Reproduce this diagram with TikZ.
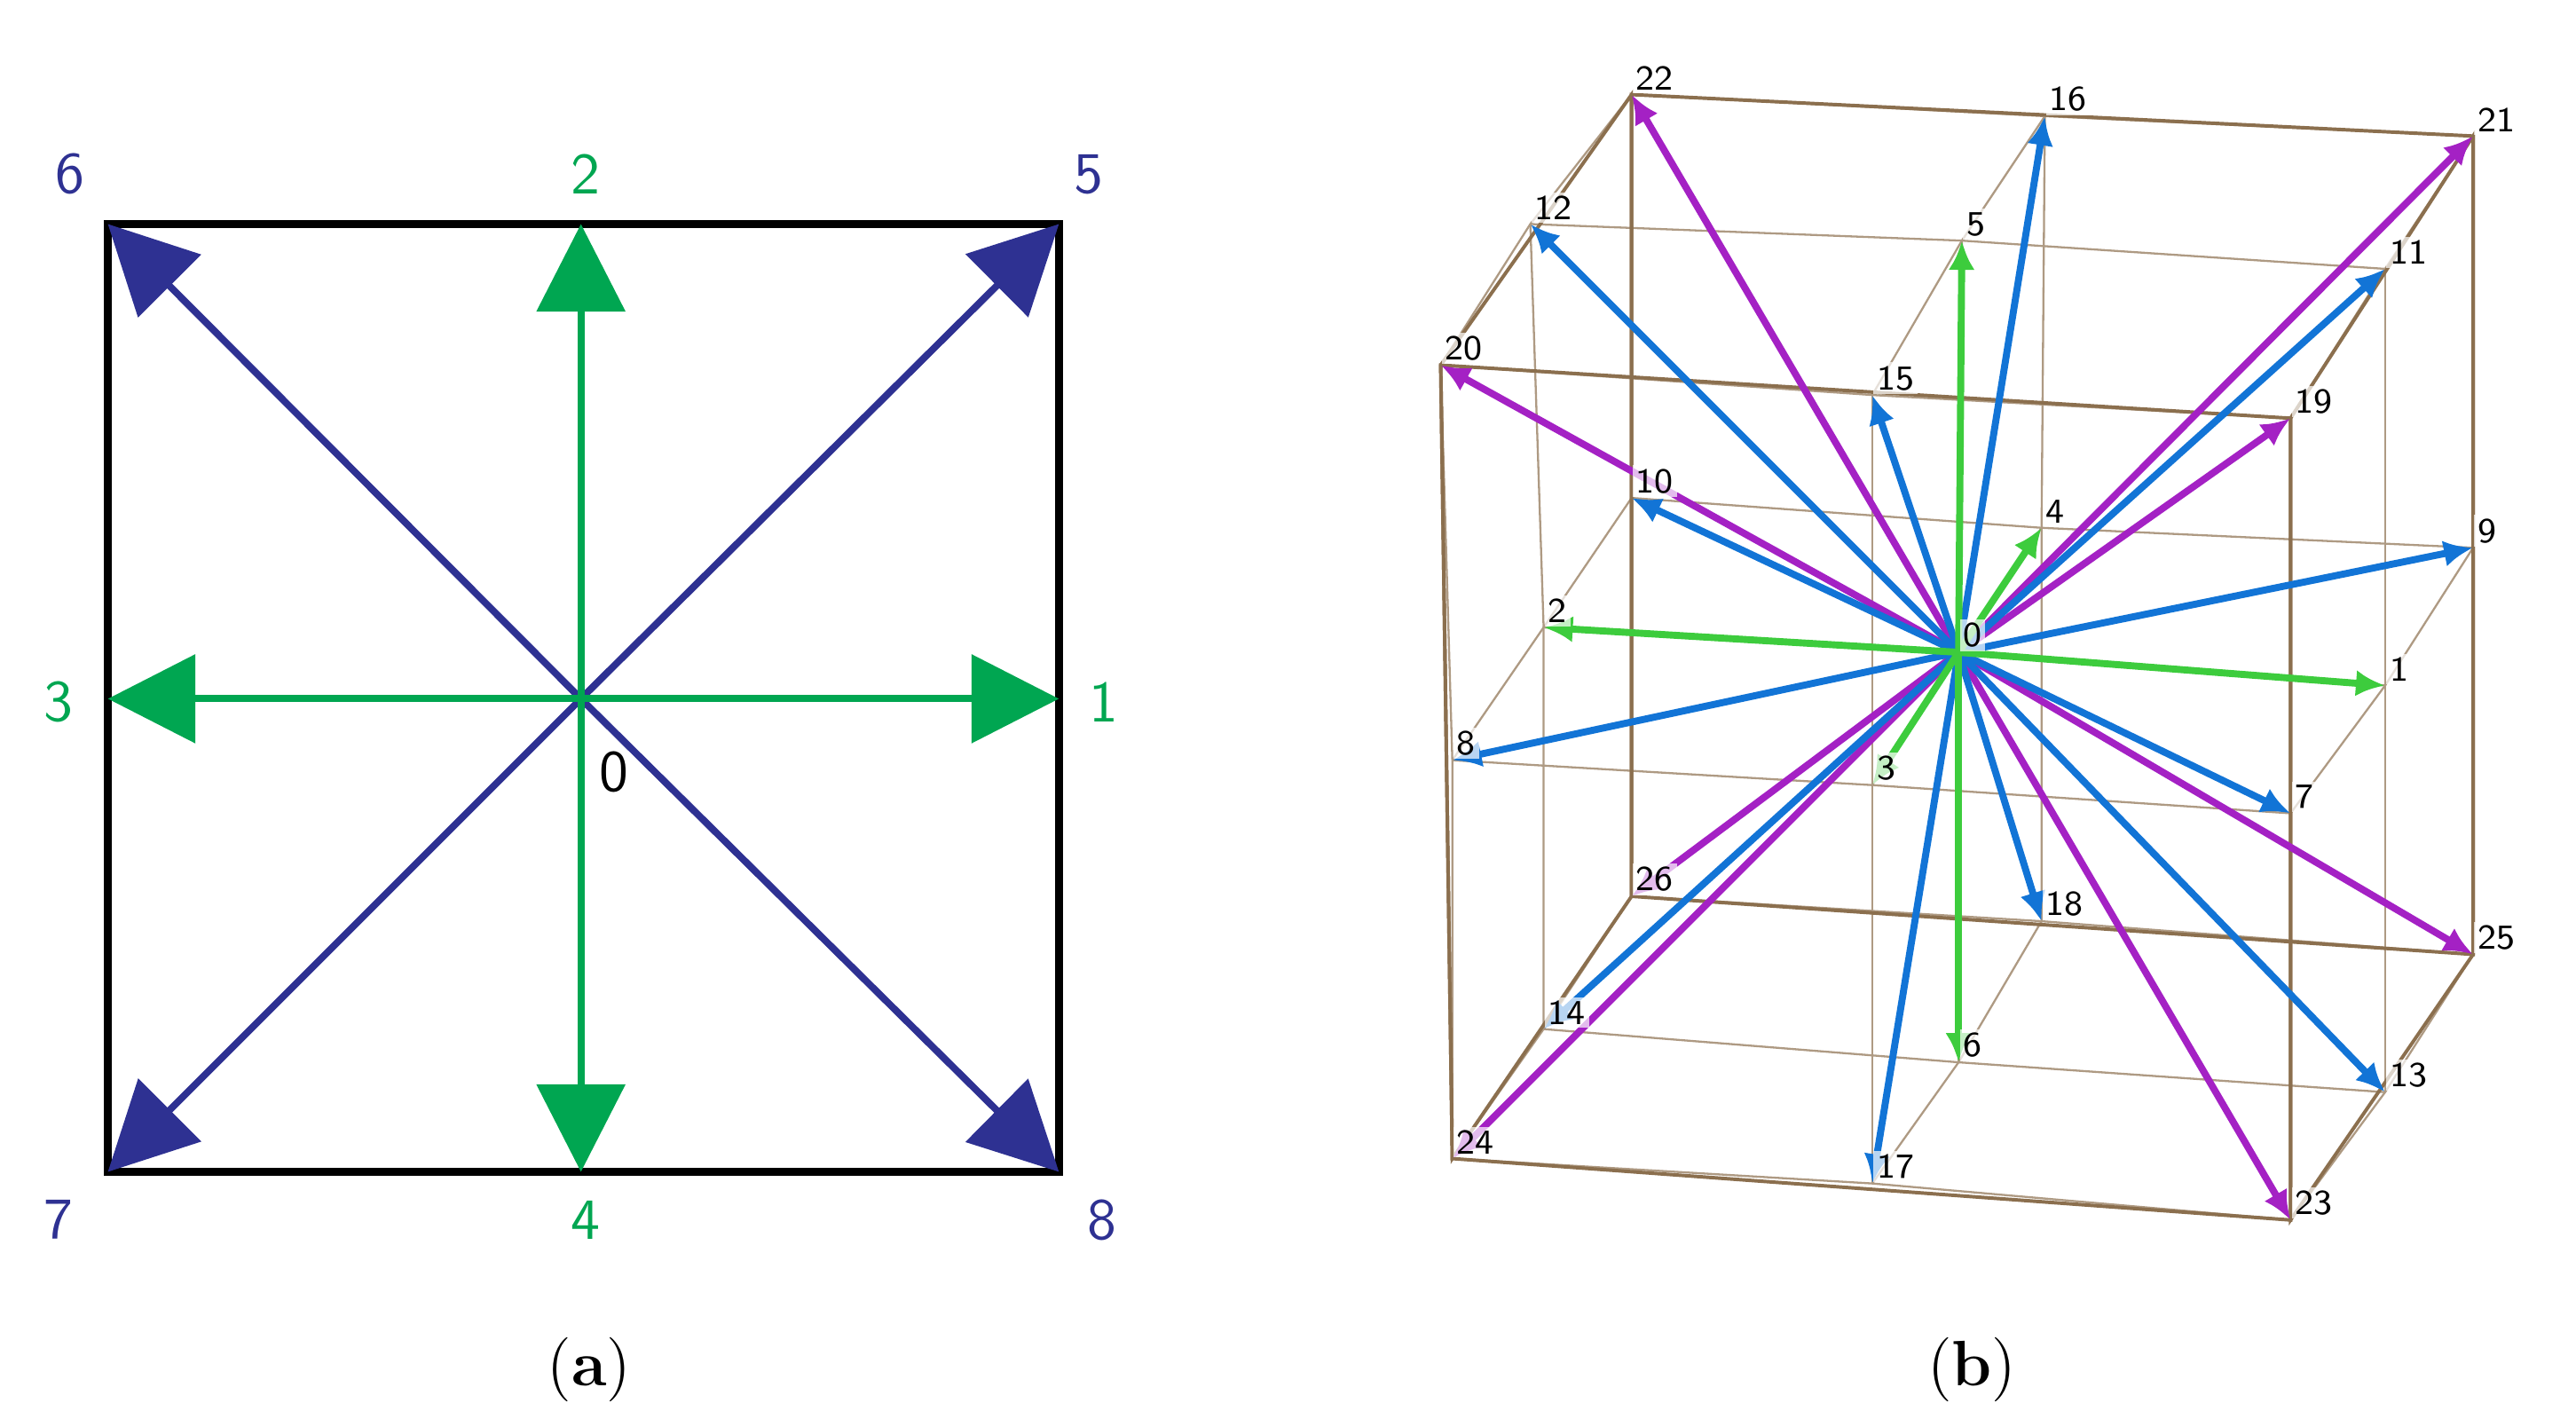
\documentclass[tikz,border=0pt]{standalone}
\usetikzlibrary{arrows.meta}
\definecolor{navy}{HTML}{2E3192}
\definecolor{grn}{HTML}{00A651}
\definecolor{lgrn}{HTML}{3DCC3D}
\definecolor{blu}{HTML}{1274D6}
\definecolor{mag}{HTML}{A421C4}
\definecolor{frm}{HTML}{8B6F4E}
\tikzset{
 bigarr/.style={line width=1.2pt,-{Triangle[length=15pt,width=15pt]}},
 smallarr/.style={line width=1.2pt,-{Latex[length=5pt,width=4.5pt]}},
 lab/.style={font=\sffamily\fontsize{10}{10}\selectfont},
 slab/.style={font=\sffamily\fontsize{6}{6}\selectfont,inner sep=0.6pt,fill=white,fill opacity=0.7,text opacity=1},
 grid/.style={frm!70,line width=0.35pt}
}
\begin{document}
\begin{tikzpicture}
\useasboundingbox (0,0) rectangle (15.52,8.5);
% panel a
\coordinate (c) at (3.50,4.29);
\coordinate (a1) at (6.38,4.29);
\coordinate (a2) at (3.50,7.15);
\coordinate (a3) at (0.65,4.29);
\coordinate (a4) at (3.50,1.44);
\coordinate (a5) at (6.38,7.15);
\coordinate (a6) at (0.65,7.15);
\coordinate (a7) at (0.65,1.44);
\coordinate (a8) at (6.38,1.44);
\draw[line width=1.3pt] (a7) rectangle (a5);
\foreach \i in {5,6,7,8} \draw[bigarr,navy] (c) -- (a\i);
\foreach \i in {1,2,3,4} \draw[bigarr,grn] (c) -- (a\i);
\node[lab,text=navy] (l6) at (0.42,7.45) {6};
\node[lab,text=grn] (l2) at (3.53,7.45) {2};
\node[lab,text=navy] (l5) at (6.56,7.45) {5};
\node[lab,text=grn] (l3) at (0.35,4.27) {3};
\node[lab,text=grn] (l1) at (6.65,4.27) {1};
\node[lab,text=navy] (l7) at (0.35,1.15) {7};
\node[lab,text=grn] (l4) at (3.53,1.15) {4};
\node[lab,text=navy] (l8) at (6.64,1.15) {8};
\node[lab] (l0) at (3.70,3.85) {0};
\node[font=\fontsize{11}{11}\selectfont] (capa) at (3.55,0.25) {(\textbf{a})};
\node[font=\fontsize{11}{11}\selectfont] (capb) at (11.88,0.25) {(\textbf{b})};
% panel b
\coordinate (p0) at (11.80,4.57);
\coordinate (p1) at (14.37,4.37);
\coordinate (p2) at (9.30,4.72);
\coordinate (p3) at (11.28,3.77);
\coordinate (p4) at (12.30,5.32);
\coordinate (p5) at (11.82,7.05);
\coordinate (p6) at (11.80,2.10);
\coordinate (p7) at (13.80,3.60);
\coordinate (p8) at (8.75,3.92);
\coordinate (p9) at (14.90,5.20);
\coordinate (p10) at (9.83,5.50);
\coordinate (p11) at (14.37,6.88);
\coordinate (p12) at (9.22,7.15);
\coordinate (p13) at (14.37,1.92);
\coordinate (p14) at (9.30,2.30);
\coordinate (p15) at (11.28,6.12);
\coordinate (p16) at (12.32,7.80);
\coordinate (p17) at (11.28,1.37);
\coordinate (p18) at (12.30,2.95);
\coordinate (p19) at (13.80,5.98);
\coordinate (p20) at (8.68,6.30);
\coordinate (p21) at (14.90,7.68);
\coordinate (p22) at (9.83,7.93);
\coordinate (p23) at (13.80,1.15);
\coordinate (p24) at (8.75,1.52);
\coordinate (p25) at (14.90,2.75);
\coordinate (p26) at (9.83,3.10);
\foreach \a/\b/\c in {22/16/21,12/5/11,20/15/19,10/4/9,2/0/1,8/3/7,26/18/25,14/6/13,24/17/23,
 22/12/20,16/5/15,21/11/19,10/2/8,4/0/3,9/1/7,26/14/24,18/6/17,25/13/23,
 22/10/26,16/4/18,21/9/25,12/2/14,5/0/6,11/1/13,20/8/24,15/3/17,19/7/23}
  \draw[grid] (p\a) -- (p\b) -- (p\c);
\foreach \a/\b/\c/\d in {22/21/25/26,20/19/23/24,22/20/24/26,21/19/23/25}
  \draw[frm,line width=0.6pt] (p\a) -- (p\b) -- (p\c) -- (p\d) -- cycle;
\foreach \i in {19,...,26} \draw[smallarr,mag] (p0) -- (p\i);
\foreach \i in {7,...,18} \draw[smallarr,blu] (p0) -- (p\i);
\foreach \i in {1,...,6} \draw[smallarr,lgrn] (p0) -- (p\i);
\foreach \i in {0,...,26} \node[slab,anchor=south west] (q\i) at (p\i) {\i};
\end{tikzpicture}
\end{document}
